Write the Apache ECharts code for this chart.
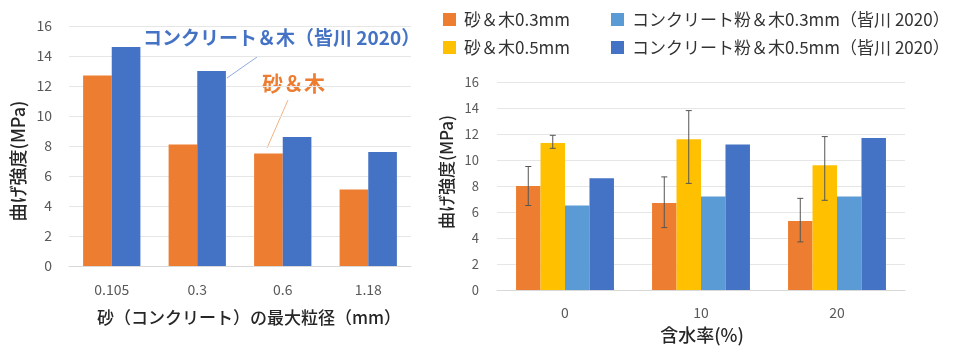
<!DOCTYPE html>
<html>
<head>
<meta charset="utf-8">
<script src="https://cdn.jsdelivr.net/npm/echarts@6/dist/echarts.min.js"></script>
<style>
  html, body { margin: 0; padding: 0; background: #fff; }
  #chart { width: 959px; height: 347px; }
</style>
</head>
<body>
<div id="chart"></div>
<script>
// Left panel: strength vs. max grain size
const sizeCats = ['0.105', '0.3', '0.6', '1.18'];
const sandWood = [12.7, 8.1, 7.5, 5.1];
const concWood = [14.6, 13.0, 8.6, 7.6];

// Right panel: strength vs. moisture content
const moistCats = ['0', '10', '20'];
const sand03 = [8.0, 6.7, 5.3];
const sand05 = [11.3, 11.6, 9.6];
const conc03 = [6.5, 7.2, 7.2];
const conc05 = [8.6, 11.2, 11.7];
// Error bar extents (low / high)
const sand03Low = [6.5, 4.8, 3.7];
const sand03High = [9.5, 8.7, 7.05];
const sand05Low = [10.9, 8.2, 6.9];
const sand05High = [11.9, 13.8, 11.8];

const yTicksMax = 16;
const yTickStep = 2;

const FONT = '"Noto Sans CJK JP", "Noto Sans", sans-serif';
const ORANGE = '#ED7D31';
const BLUE = '#4472C4';
const YELLOW = '#FFC000';
const LIGHTBLUE = '#5B9BD5';
const GAP_RIGHT = 0.28;

const names = {
  s03: '砂＆木0.3mm',
  s05: '砂＆木0.5mm',
  c03: 'コンクリート粉＆木0.3mm（皆川 2020）',
  c05: 'コンクリート粉＆木0.5mm（皆川 2020）'
};

function errData(lo, hi, slot) {
  return lo.map((v, i) => [i, v, hi[i], slot]);
}

function renderErr(params, api) {
  const ci = api.value(0);
  const lo = api.value(1);
  const hi = api.value(2);
  const slot = api.value(3);
  const band = api.size([1, 0])[0];
  const bw = band * (1 - GAP_RIGHT) / 4;
  const x = api.coord([ci, 0])[0] + (slot - 1.5) * bw;
  const yl = api.coord([ci, lo])[1];
  const yh = api.coord([ci, hi])[1];
  const st = { stroke: '#555', lineWidth: 1 };
  const cap = 3;
  return {
    type: 'group',
    children: [
      { type: 'line', shape: { x1: x, y1: yl, x2: x, y2: yh }, style: st },
      { type: 'line', shape: { x1: x - cap, y1: yh, x2: x + cap, y2: yh }, style: st },
      { type: 'line', shape: { x1: x - cap, y1: yl, x2: x + cap, y2: yl }, style: st }
    ]
  };
}

const valueAxisCommon = {
  type: 'value',
  min: 0,
  max: yTicksMax,
  interval: yTickStep,
  axisLine: { show: false },
  axisTick: { show: false },
  splitLine: { lineStyle: { color: '#e6e6e6', width: 1 } }
};

const legendText = { fontSize: 17, color: '#333', fontFamily: FONT, padding: [0, 0, 0, 3] };

const chart = echarts.init(document.getElementById('chart'));
chart.setOption({
  animation: false,
  textStyle: { fontFamily: FONT },
  grid: [
    { left: 69, top: 26, width: 342, height: 240 },
    { left: 497, top: 82, width: 408, height: 208 }
  ],
  legend: [
    {
      data: [names.s03, names.s05],
      orient: 'vertical',
      left: 438, top: 6,
      itemWidth: 13, itemHeight: 13, itemGap: 11,
      icon: 'rect',
      textStyle: legendText
    },
    {
      data: [names.c03, names.c05],
      orient: 'vertical',
      left: 606, top: 6,
      itemWidth: 13, itemHeight: 13, itemGap: 11,
      icon: 'rect',
      textStyle: legendText
    }
  ],
  xAxis: [
    {
      type: 'category', gridIndex: 0, data: sizeCats,
      axisLine: { lineStyle: { color: '#d9d9d9' } },
      axisTick: { show: false },
      axisLabel: { color: '#595959', fontSize: 14, margin: 17, fontFamily: FONT }
    },
    {
      type: 'category', gridIndex: 1, data: moistCats,
      axisLine: { lineStyle: { color: '#d9d9d9' } },
      axisTick: { show: false },
      axisLabel: { color: '#595959', fontSize: 14, margin: 16, fontFamily: FONT }
    }
  ],
  yAxis: [
    Object.assign({}, valueAxisCommon, {
      gridIndex: 0,
      axisLabel: { color: '#595959', fontSize: 14, margin: 17, fontFamily: FONT }
    }),
    Object.assign({}, valueAxisCommon, {
      gridIndex: 1,
      axisLabel: { color: '#595959', fontSize: 13, margin: 18, fontFamily: FONT }
    })
  ],
  series: [
    {
      name: '砂＆木', type: 'bar', xAxisIndex: 0, yAxisIndex: 0,
      data: sandWood, itemStyle: { color: ORANGE },
      barGap: '0%', barCategoryGap: '33%'
    },
    {
      name: 'コンクリート＆木（皆川 2020）', type: 'bar', xAxisIndex: 0, yAxisIndex: 0,
      data: concWood, itemStyle: { color: BLUE },
      barGap: '0%', barCategoryGap: '33%'
    },
    {
      name: names.s03, type: 'bar', xAxisIndex: 1, yAxisIndex: 1,
      data: sand03, itemStyle: { color: ORANGE },
      barGap: '0%', barCategoryGap: (GAP_RIGHT * 100) + '%'
    },
    {
      name: names.s05, type: 'bar', xAxisIndex: 1, yAxisIndex: 1,
      data: sand05, itemStyle: { color: YELLOW },
      barGap: '0%', barCategoryGap: (GAP_RIGHT * 100) + '%'
    },
    {
      name: names.c03, type: 'bar', xAxisIndex: 1, yAxisIndex: 1,
      data: conc03, itemStyle: { color: LIGHTBLUE },
      barGap: '0%', barCategoryGap: (GAP_RIGHT * 100) + '%'
    },
    {
      name: names.c05, type: 'bar', xAxisIndex: 1, yAxisIndex: 1,
      data: conc05, itemStyle: { color: BLUE },
      barGap: '0%', barCategoryGap: (GAP_RIGHT * 100) + '%'
    },
    {
      type: 'custom', xAxisIndex: 1, yAxisIndex: 1, z: 5,
      renderItem: renderErr,
      encode: { x: 0, y: [1, 2] },
      data: errData(sand03Low, sand03High, 0)
    },
    {
      type: 'custom', xAxisIndex: 1, yAxisIndex: 1, z: 5,
      renderItem: renderErr,
      encode: { x: 0, y: [1, 2] },
      data: errData(sand05Low, sand05High, 1)
    }
  ],
  graphic: [
    // axis titles
    {
      type: 'text', x: 18, y: 161, rotation: Math.PI / 2,
      style: { text: '曲げ強度(MPa)', font: '500 18px ' + FONT, fill: '#262626', align: 'center', verticalAlign: 'middle' }
    },
    {
      type: 'text', x: 249, y: 318,
      style: { text: '砂（コンクリート）の最大粒径（mm）', font: '500 17px ' + FONT, fill: '#262626', align: 'center', verticalAlign: 'middle' }
    },
    {
      type: 'text', x: 447, y: 172, rotation: Math.PI / 2,
      style: { text: '曲げ強度(MPa)', font: '500 17px ' + FONT, fill: '#262626', align: 'center', verticalAlign: 'middle' }
    },
    {
      type: 'text', x: 702, y: 335,
      style: { text: '含水率(%)', font: '500 18px ' + FONT, fill: '#262626', align: 'center', verticalAlign: 'middle' }
    },
    // series callouts on the left panel
    {
      type: 'text', x: 143, y: 38,
      style: { text: 'コンクリート＆木（皆川 2020）', font: 'bold 19px ' + FONT, fill: BLUE, align: 'left', verticalAlign: 'middle' }
    },
    {
      type: 'line', shape: { x1: 227, y1: 78, x2: 257, y2: 57 },
      style: { stroke: '#8eaadb', lineWidth: 1 }
    },
    {
      type: 'text', x: 262, y: 83,
      style: { text: '砂＆木', font: 'bold 21px ' + FONT, fill: ORANGE, align: 'left', verticalAlign: 'middle' }
    },
    {
      type: 'line', shape: { x1: 288, y1: 100, x2: 267, y2: 148 },
      style: { stroke: '#f4b183', lineWidth: 1 }
    }
  ]
});
</script>
</body>
</html>
